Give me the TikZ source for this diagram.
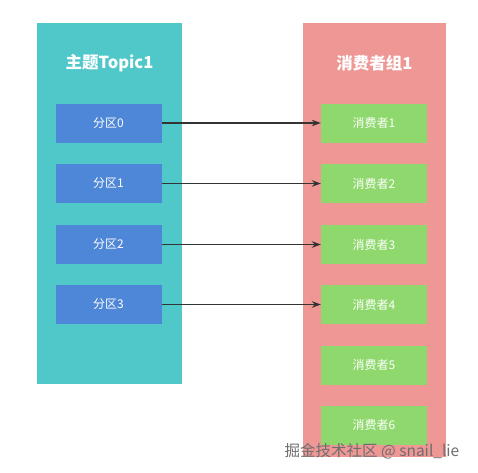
\documentclass[tikz,border=0pt]{standalone}
\usepackage{fontspec}
\setmainfont{Noto Sans CJK SC}
\usetikzlibrary{arrows.meta}
\definecolor{teal1}{HTML}{50C8CA}
\definecolor{blue1}{HTML}{4E86D8}
\definecolor{pink1}{HTML}{EE9794}
\definecolor{green1}{HTML}{8ED86D}
\definecolor{arrowc}{HTML}{333333}
\definecolor{markc}{HTML}{6E6E6E}
\tikzset{
  panel/.style={draw=none,inner sep=0pt,anchor=north west},
  partbox/.style={fill=blue1,draw=none,minimum width=106pt,minimum height=39pt,inner sep=0pt,text=white,font=\fontsize{12}{14}\selectfont},
  consbox/.style={fill=green1,draw=none,minimum width=106pt,minimum height=39pt,inner sep=0pt,text=white,font=\fontsize{12}{14}\selectfont},
  titletext/.style={text=white,font=\bfseries\fontsize{16.5}{19}\selectfont},
  link/.style={draw=arrowc,line width=1.2pt,-{Stealth[length=9pt,width=6.5pt]}}
}
\begin{document}
\begin{tikzpicture}[x=1pt,y=-1pt]
\useasboundingbox (0,0) rectangle (478,472);
\fill[white] (0,0) rectangle (478,472);
\node[panel,fill=teal1,minimum width=145pt,minimum height=361pt] (left) at (37,23) {};
\node[panel,fill=pink1,minimum width=143pt,minimum height=434pt] (right) at (303,23) {};
\node[titletext] (lt) at (109.5,63) {主题Topic1};
\node[titletext] (rt) at (374.5,63) {消费者组1};
\foreach \i/\y in {0/123,1/183.5,2/244.5,3/304.5}{
  \node[partbox] (p\i) at (108.5,\y) {分区\i};
}
\foreach \i/\y in {1/123,2/183.5,3/244.5,4/304.5,5/365,6/425}{
  \node[consbox] (c\i) at (374,\y) {消费者\i};
}
\foreach \i/\j in {0/1,1/2,2/3,3/4}{
  \draw[link] (p\i.east) -- (c\j.west);
}
\node[text=markc,font=\fontsize{15.5}{18}\selectfont,anchor=center] (wm) at (372,451) {掘金技术社区 @ snail\_lie};
\end{tikzpicture}
\end{document}
